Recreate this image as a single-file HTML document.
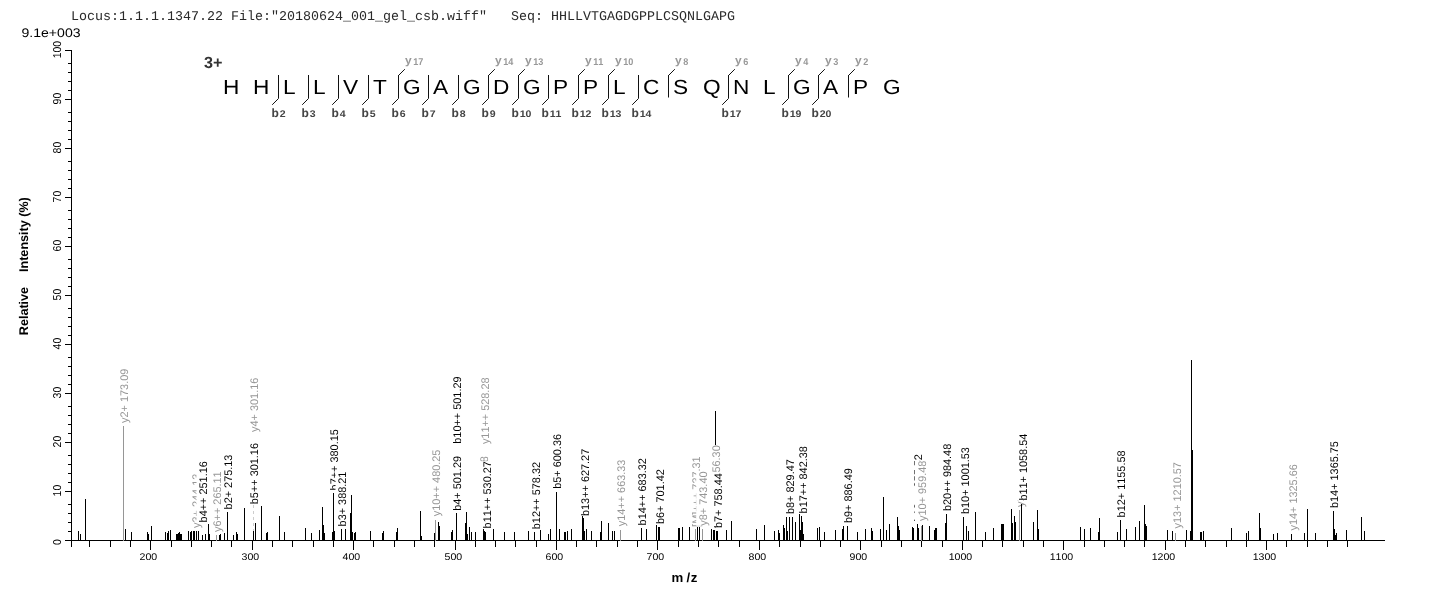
<!DOCTYPE html>
<html lang="en"><head><meta charset="utf-8"><title>MS/MS spectrum HHLLVTGAGDGPPLCSQNLGAPG</title>
<style>html,body{margin:0;padding:0;background:#fff}body{width:1436px;height:600px;overflow:hidden}svg{display:block}text{white-space:pre}text{font-family:"Liberation Sans",Arial,sans-serif;font-kerning:none;font-variant-ligatures:none;text-rendering:geometricPrecision}.m{font-family:"Liberation Mono","Courier New",monospace}.c{shape-rendering:crispEdges}</style></head><body>
<svg width="1436" height="600" viewBox="0 0 1436 600">
<rect width="1436" height="600" fill="#fff"/>
<text class="m" x="70.9" y="19.8" font-size="13.33" fill="#2a2a2a" xml:space="preserve" textLength="664.0" lengthAdjust="spacing">Locus:1.1.1.1347.22 File:&quot;20180624_001_gel_csb.wiff&quot;   Seq: HHLLVTGAGDGPPLCSQNLGAPG</text>
<text transform="translate(21.5,36.8) scale(1.125,1)" font-size="12.5" fill="#000">9.1e+003</text>
<g class="c" stroke="#000" stroke-width="1" fill="none">
<path d="M71.5 50V547M65 540.5H1385M65 540.5H71M68 531.5H71M68 522.5H71M68 513.5H71M68 504.5H71M65 491.5H71M68 482.5H71M68 473.5H71M68 464.5H71M68 455.5H71M65 442.5H71M68 433.5H71M68 424.5H71M68 415.5H71M68 406.5H71M65 393.5H71M68 384.5H71M68 375.5H71M68 366.5H71M68 357.5H71M65 344.5H71M68 335.5H71M68 326.5H71M68 317.5H71M68 308.5H71M65 295.5H71M68 286.5H71M68 277.5H71M68 268.5H71M68 259.5H71M65 246.5H71M68 237.5H71M68 228.5H71M68 219.5H71M68 210.5H71M65 197.5H71M68 188.5H71M68 179.5H71M68 170.5H71M68 161.5H71M65 148.5H71M68 139.5H71M68 130.5H71M68 121.5H71M68 112.5H71M65 99.5H71M68 90.5H71M68 81.5H71M68 72.5H71M68 63.5H71M65 50.5H71M89.5 540V547M110.5 540V547M130.5 540V547M150.5 540V550M171.5 540V547M191.5 540V547M211.5 540V547M231.5 540V547M252.5 540V550M272.5 540V547M292.5 540V547M313.5 540V547M333.5 540V547M353.5 540V550M373.5 540V547M394.5 540V547M414.5 540V547M434.5 540V547M455.5 540V550M475.5 540V547M495.5 540V547M515.5 540V547M536.5 540V547M556.5 540V550M576.5 540V547M596.5 540V547M617.5 540V547M637.5 540V547M657.5 540V550M678.5 540V547M698.5 540V547M718.5 540V547M739.5 540V547M759.5 540V550M779.5 540V547M800.5 540V547M820.5 540V547M840.5 540V547M860.5 540V550M881.5 540V547M901.5 540V547M921.5 540V547M942.5 540V547M962.5 540V550M982.5 540V547M1002.5 540V547M1023.5 540V547M1043.5 540V547M1063.5 540V550M1084.5 540V547M1104.5 540V547M1124.5 540V547M1144.5 540V547M1165.5 540V550M1185.5 540V547M1205.5 540V547M1226.5 540V547M1246.5 540V547M1266.5 540V550M1286.5 540V547M1307.5 540V547M1327.5 540V547M1347.5 540V547"/>
</g>
<text transform="translate(61.4,542.1) rotate(-90) scale(0.95,1.04)" font-size="11" text-anchor="middle" fill="#000">0</text>
<text transform="translate(61.4,490.6) rotate(-90) scale(0.95,1.04)" font-size="11" text-anchor="middle" fill="#000">10</text>
<text transform="translate(61.4,441.6) rotate(-90) scale(0.95,1.04)" font-size="11" text-anchor="middle" fill="#000">20</text>
<text transform="translate(61.4,392.6) rotate(-90) scale(0.95,1.04)" font-size="11" text-anchor="middle" fill="#000">30</text>
<text transform="translate(61.4,343.6) rotate(-90) scale(0.95,1.04)" font-size="11" text-anchor="middle" fill="#000">40</text>
<text transform="translate(61.4,294.6) rotate(-90) scale(0.95,1.04)" font-size="11" text-anchor="middle" fill="#000">50</text>
<text transform="translate(61.4,245.6) rotate(-90) scale(0.95,1.04)" font-size="11" text-anchor="middle" fill="#000">60</text>
<text transform="translate(61.4,196.6) rotate(-90) scale(0.95,1.04)" font-size="11" text-anchor="middle" fill="#000">70</text>
<text transform="translate(61.4,147.6) rotate(-90) scale(0.95,1.04)" font-size="11" text-anchor="middle" fill="#000">80</text>
<text transform="translate(61.4,98.6) rotate(-90) scale(0.95,1.04)" font-size="11" text-anchor="middle" fill="#000">90</text>
<text transform="translate(61.4,49.6) rotate(-90) scale(0.95,1.04)" font-size="11" text-anchor="middle" fill="#000">100</text>
<text transform="translate(28,335.2) rotate(-90)" font-size="12.6" font-weight="bold" fill="#000" xml:space="preserve"><tspan x="0">Relative   </tspan><tspan x="63.2">Intensity </tspan><tspan x="118.4">(%)</tspan></text>
<text transform="translate(148.4,559.7) scale(1.09,1)" font-size="9.7" text-anchor="middle" fill="#000">200</text>
<text transform="translate(250.4,559.7) scale(1.09,1)" font-size="9.7" text-anchor="middle" fill="#000">300</text>
<text transform="translate(351.4,559.7) scale(1.09,1)" font-size="9.7" text-anchor="middle" fill="#000">400</text>
<text transform="translate(453.4,559.7) scale(1.09,1)" font-size="9.7" text-anchor="middle" fill="#000">500</text>
<text transform="translate(554.4,559.7) scale(1.09,1)" font-size="9.7" text-anchor="middle" fill="#000">600</text>
<text transform="translate(655.4,559.7) scale(1.09,1)" font-size="9.7" text-anchor="middle" fill="#000">700</text>
<text transform="translate(757.4,559.7) scale(1.09,1)" font-size="9.7" text-anchor="middle" fill="#000">800</text>
<text transform="translate(858.4,559.7) scale(1.09,1)" font-size="9.7" text-anchor="middle" fill="#000">900</text>
<text transform="translate(960.4,559.7) scale(1.09,1)" font-size="9.7" text-anchor="middle" fill="#000">1000</text>
<text transform="translate(1061.4,559.7) scale(1.09,1)" font-size="9.7" text-anchor="middle" fill="#000">1100</text>
<text transform="translate(1163.4,559.7) scale(1.09,1)" font-size="9.7" text-anchor="middle" fill="#000">1200</text>
<text transform="translate(1264.4,559.7) scale(1.09,1)" font-size="9.7" text-anchor="middle" fill="#000">1300</text>
<text transform="translate(671.5,582.3) scale(1.01,1)" font-size="13.1" font-weight="bold" fill="#000" dx="0 3.2 0.6">m/z</text>
<text transform="translate(204.0,67.5)" font-size="16.2" font-weight="bold" fill="#333">3+</text>
<text transform="translate(223.0,93.5) scale(1.105,1)" font-size="20.5" fill="#000">H</text>
<text transform="translate(253.0,93.5) scale(1.105,1)" font-size="20.5" fill="#000">H</text>
<text transform="translate(283.0,93.5) scale(1.105,1)" font-size="20.5" fill="#000">L</text>
<text transform="translate(313.0,93.5) scale(1.105,1)" font-size="20.5" fill="#000">L</text>
<text transform="translate(343.0,93.5) scale(1.105,1)" font-size="20.5" fill="#000">V</text>
<text transform="translate(373.0,93.5) scale(1.105,1)" font-size="20.5" fill="#000">T</text>
<text transform="translate(403.0,93.5) scale(1.105,1)" font-size="20.5" fill="#000">G</text>
<text transform="translate(433.0,93.5) scale(1.105,1)" font-size="20.5" fill="#000">A</text>
<text transform="translate(463.0,93.5) scale(1.105,1)" font-size="20.5" fill="#000">G</text>
<text transform="translate(493.0,93.5) scale(1.105,1)" font-size="20.5" fill="#000">D</text>
<text transform="translate(523.0,93.5) scale(1.105,1)" font-size="20.5" fill="#000">G</text>
<text transform="translate(553.0,93.5) scale(1.105,1)" font-size="20.5" fill="#000">P</text>
<text transform="translate(583.0,93.5) scale(1.105,1)" font-size="20.5" fill="#000">P</text>
<text transform="translate(613.0,93.5) scale(1.105,1)" font-size="20.5" fill="#000">L</text>
<text transform="translate(643.0,93.5) scale(1.105,1)" font-size="20.5" fill="#000">C</text>
<text transform="translate(673.0,93.5) scale(1.105,1)" font-size="20.5" fill="#000">S</text>
<text transform="translate(703.0,93.5) scale(1.105,1)" font-size="20.5" fill="#000">Q</text>
<text transform="translate(733.0,93.5) scale(1.105,1)" font-size="20.5" fill="#000">N</text>
<text transform="translate(763.0,93.5) scale(1.105,1)" font-size="20.5" fill="#000">L</text>
<text transform="translate(793.0,93.5) scale(1.105,1)" font-size="20.5" fill="#000">G</text>
<text transform="translate(823.0,93.5) scale(1.105,1)" font-size="20.5" fill="#000">A</text>
<text transform="translate(853.0,93.5) scale(1.105,1)" font-size="20.5" fill="#000">P</text>
<text transform="translate(883.0,93.5) scale(1.105,1)" font-size="20.5" fill="#000">G</text>
<path d="M278.5 75V98.5L272.2 104.8M308.5 75V98.5L302.2 104.8M338.5 75V98.5L332.2 104.8M368.5 75V98.5L362.2 104.8M398.5 75V98.5L392.2 104.8M398.5 75.5L404.8 69.2M428.5 75V98.5L422.2 104.8M458.5 75V98.5L452.2 104.8M488.5 75V98.5L482.2 104.8M488.5 75.5L494.8 69.2M518.5 75V98.5L512.2 104.8M518.5 75.5L524.8 69.2M548.5 75V98.5L542.2 104.8M578.5 75V98.5L572.2 104.8M578.5 75.5L584.8 69.2M608.5 75V98.5L602.2 104.8M608.5 75.5L614.8 69.2M638.5 75V98.5L632.2 104.8M668.5 75V97.5M668.5 75.5L674.8 69.2M728.5 75V98.5L722.2 104.8M728.5 75.5L734.8 69.2M788.5 75V98.5L782.2 104.8M788.5 75.5L794.8 69.2M818.5 75V98.5L812.2 104.8M818.5 75.5L824.8 69.2M848.5 75V97.5M848.5 75.5L854.8 69.2" stroke="#111" stroke-width="1" fill="none"/>
<text x="278.9" y="116.6" font-size="12" font-weight="bold" fill="#444" text-anchor="end">b</text>
<text transform="translate(279.7,116.6) scale(1.1,1)" font-size="9.6" font-weight="bold" fill="#444">2</text>
<text x="308.9" y="116.6" font-size="12" font-weight="bold" fill="#444" text-anchor="end">b</text>
<text transform="translate(309.7,116.6) scale(1.1,1)" font-size="9.6" font-weight="bold" fill="#444">3</text>
<text x="338.9" y="116.6" font-size="12" font-weight="bold" fill="#444" text-anchor="end">b</text>
<text transform="translate(339.7,116.6) scale(1.1,1)" font-size="9.6" font-weight="bold" fill="#444">4</text>
<text x="368.9" y="116.6" font-size="12" font-weight="bold" fill="#444" text-anchor="end">b</text>
<text transform="translate(369.7,116.6) scale(1.1,1)" font-size="9.6" font-weight="bold" fill="#444">5</text>
<text x="398.9" y="116.6" font-size="12" font-weight="bold" fill="#444" text-anchor="end">b</text>
<text transform="translate(399.7,116.6) scale(1.1,1)" font-size="9.6" font-weight="bold" fill="#444">6</text>
<text x="428.9" y="116.6" font-size="12" font-weight="bold" fill="#444" text-anchor="end">b</text>
<text transform="translate(429.7,116.6) scale(1.1,1)" font-size="9.6" font-weight="bold" fill="#444">7</text>
<text x="458.9" y="116.6" font-size="12" font-weight="bold" fill="#444" text-anchor="end">b</text>
<text transform="translate(459.7,116.6) scale(1.1,1)" font-size="9.6" font-weight="bold" fill="#444">8</text>
<text x="488.9" y="116.6" font-size="12" font-weight="bold" fill="#444" text-anchor="end">b</text>
<text transform="translate(489.7,116.6) scale(1.1,1)" font-size="9.6" font-weight="bold" fill="#444">9</text>
<text x="518.9" y="116.6" font-size="12" font-weight="bold" fill="#444" text-anchor="end">b</text>
<text transform="translate(519.7,116.6) scale(1.1,1)" font-size="9.6" font-weight="bold" fill="#444">10</text>
<text x="548.9" y="116.6" font-size="12" font-weight="bold" fill="#444" text-anchor="end">b</text>
<text transform="translate(549.7,116.6) scale(1.1,1)" font-size="9.6" font-weight="bold" fill="#444">11</text>
<text x="578.9" y="116.6" font-size="12" font-weight="bold" fill="#444" text-anchor="end">b</text>
<text transform="translate(579.7,116.6) scale(1.1,1)" font-size="9.6" font-weight="bold" fill="#444">12</text>
<text x="608.9" y="116.6" font-size="12" font-weight="bold" fill="#444" text-anchor="end">b</text>
<text transform="translate(609.7,116.6) scale(1.1,1)" font-size="9.6" font-weight="bold" fill="#444">13</text>
<text x="638.9" y="116.6" font-size="12" font-weight="bold" fill="#444" text-anchor="end">b</text>
<text transform="translate(639.7,116.6) scale(1.1,1)" font-size="9.6" font-weight="bold" fill="#444">14</text>
<text x="728.9" y="116.6" font-size="12" font-weight="bold" fill="#444" text-anchor="end">b</text>
<text transform="translate(729.7,116.6) scale(1.1,1)" font-size="9.6" font-weight="bold" fill="#444">17</text>
<text x="788.9" y="116.6" font-size="12" font-weight="bold" fill="#444" text-anchor="end">b</text>
<text transform="translate(789.7,116.6) scale(1.1,1)" font-size="9.6" font-weight="bold" fill="#444">19</text>
<text x="818.9" y="116.6" font-size="12" font-weight="bold" fill="#444" text-anchor="end">b</text>
<text transform="translate(819.7,116.6) scale(1.1,1)" font-size="9.6" font-weight="bold" fill="#444">20</text>
<text transform="translate(405.0,64.2) scale(1.06,1)" font-size="11.3" font-weight="bold" fill="#999">y</text>
<text transform="translate(413.3,64.8) scale(0.93,1)" font-size="9.8" font-weight="bold" fill="#999">17</text>
<text transform="translate(495.0,64.2) scale(1.06,1)" font-size="11.3" font-weight="bold" fill="#999">y</text>
<text transform="translate(503.3,64.8) scale(0.93,1)" font-size="9.8" font-weight="bold" fill="#999">14</text>
<text transform="translate(525.0,64.2) scale(1.06,1)" font-size="11.3" font-weight="bold" fill="#999">y</text>
<text transform="translate(533.3,64.8) scale(0.93,1)" font-size="9.8" font-weight="bold" fill="#999">13</text>
<text transform="translate(585.0,64.2) scale(1.06,1)" font-size="11.3" font-weight="bold" fill="#999">y</text>
<text transform="translate(593.3,64.8) scale(0.93,1)" font-size="9.8" font-weight="bold" fill="#999">11</text>
<text transform="translate(615.0,64.2) scale(1.06,1)" font-size="11.3" font-weight="bold" fill="#999">y</text>
<text transform="translate(623.3,64.8) scale(0.93,1)" font-size="9.8" font-weight="bold" fill="#999">10</text>
<text transform="translate(675.0,64.2) scale(1.06,1)" font-size="11.3" font-weight="bold" fill="#999">y</text>
<text transform="translate(683.3,64.8) scale(0.93,1)" font-size="9.8" font-weight="bold" fill="#999">8</text>
<text transform="translate(735.0,64.2) scale(1.06,1)" font-size="11.3" font-weight="bold" fill="#999">y</text>
<text transform="translate(743.3,64.8) scale(0.93,1)" font-size="9.8" font-weight="bold" fill="#999">6</text>
<text transform="translate(795.0,64.2) scale(1.06,1)" font-size="11.3" font-weight="bold" fill="#999">y</text>
<text transform="translate(803.3,64.8) scale(0.93,1)" font-size="9.8" font-weight="bold" fill="#999">4</text>
<text transform="translate(825.0,64.2) scale(1.06,1)" font-size="11.3" font-weight="bold" fill="#999">y</text>
<text transform="translate(833.3,64.8) scale(0.93,1)" font-size="9.8" font-weight="bold" fill="#999">3</text>
<text transform="translate(855.0,64.2) scale(1.06,1)" font-size="11.3" font-weight="bold" fill="#999">y</text>
<text transform="translate(863.3,64.8) scale(0.93,1)" font-size="9.8" font-weight="bold" fill="#999">2</text>
<path class="c" d="M78.5 531V541M80.5 534V541M85.5 499V541M125.5 529V541M131.5 532V541M147.5 532V541M148.5 534V541M151.5 526V541M165.5 532V541M167.5 533V541M168.5 531V541M170.5 530V541M176.5 534V541M177.5 534V541M178.5 533V541M179.5 532V541M180.5 534V541M181.5 534V541M188.5 531V541M190.5 532V541M191.5 531V541M193.5 531V541M194.5 531V541M196.5 531V541M198.5 531V541M202.5 535V541M205.5 534V541M208.5 524V541M209.5 534V541M219.5 535V541M220.5 534V541M224.5 533V541M227.5 512V541M233.5 535V541M236.5 532V541M237.5 534V541M244.5 508V541M253.5 531V541M255.5 523V541M261.5 506V541M266.5 533V541M267.5 532V541M279.5 516V541M284.5 532V541M305.5 528V541M311.5 533V541M319.5 530V541M322.5 507V541M323.5 525V541M324.5 533V541M332.5 532V541M333.5 493V541M334.5 531V541M341.5 529V541M345.5 529V541M350.5 513V541M351.5 495V541M352.5 532V541M354.5 533V541M355.5 532V541M370.5 531V541M382.5 533V541M383.5 531V541M396.5 532V541M397.5 528V541M420.5 511V541M421.5 536V541M434.5 533V541M438.5 522V541M439.5 526V541M451.5 532V541M452.5 530V541M456.5 513V541M465.5 523V541M466.5 512V541M467.5 534V541M469.5 527V541M471.5 532V541M475.5 532V541M483.5 529V541M484.5 531V541M485.5 532V541M493.5 529V541M504.5 532V541M514.5 532V541M528.5 531V541M534.5 532V541M540.5 530V541M548.5 534V541M550.5 529V541M556.5 492V541M559.5 529V541M564.5 532V541M565.5 532V541M567.5 531V541M571.5 529V541M582.5 516V541M583.5 518V541M584.5 531V541M586.5 529V541M591.5 531V541M600.5 532V541M601.5 521V541M608.5 523V541M612.5 531V541M614.5 531V541M641.5 528V541M646.5 529V541M656.5 525V541M658.5 527V541M659.5 527V541M678.5 528V541M679.5 528V541M682.5 527V541M689.5 527V541M697.5 527V541M699.5 527V541M711.5 529V541M713.5 529.5V541M714.5 529.5V541M716.5 531V541M717.5 531V541M726.5 530V541M731.5 521V541M756.5 529V541M764.5 525V541M774.5 531V541M778.5 530V541M779.5 533V541M783.5 525V541M784.5 528V541M786.5 517V541M787.5 531V541M789.5 517V541M792.5 517V541M795.5 522V541M799.5 514V541M800.5 530V541M801.5 516V541M802.5 522V541M803.5 534V541M817.5 528V541M819.5 527V541M824.5 532V541M835.5 530V541M842.5 529V541M843.5 526V541M847.5 526V541M857.5 532V541M865.5 529V541M871.5 528V541M872.5 531V541M880.5 529V541M883.5 497V541M886.5 530V541M889.5 524V541M897.5 517V541M898.5 526V541M899.5 530V541M912.5 527V541M913.5 528V541M917.5 524V541M918.5 528V541M922.5 525V541M929.5 526V541M934.5 530V541M935.5 528V541M936.5 528V541M945.5 523V541M946.5 514V541M963.5 517V541M966.5 526V541M968.5 531V541M975.5 512V541M985.5 532V541M993.5 528V541M1001.5 524V541M1002.5 524V541M1003.5 524V541M1011.5 509V541M1012.5 523V541M1014.5 516V541M1015.5 522V541M1021.5 503.5V541M1033.5 522V541M1037.5 510V541M1038.5 529V541M1080.5 527V541M1084.5 529V541M1090.5 528V541M1098.5 532V541M1099.5 518V541M1117.5 532V541M1120.5 520V541M1126.5 529V541M1135.5 527V541M1139.5 521V541M1144.5 505V541M1145.5 524V541M1146.5 526V541M1167.5 530V541M1172.5 531V541M1186.5 530V541M1190.5 531V541M1191.5 360V541M1192.5 449.5V541M1200.5 532V541M1201.5 532V541M1203.5 531V541M1231.5 528V541M1246.5 533V541M1248.5 531V541M1259.5 513V541M1260.5 528V541M1273.5 534V541M1277.5 533V541M1291.5 534V541M1304.5 533V541M1307.5 509V541M1315.5 533V541M1333.5 511V541M1334.5 529V541M1335.5 535V541M1336.5 533V541M1346.5 530V541M1361.5 517V541M1364.5 531V541M715.5 411V528" stroke="#000" stroke-width="1" fill="none"/>
<path class="c" d="M123.5 426V541M216.5 535V541M435.5 520V541M620.5 530V541M695.5 529V541M702.5 529V541M921.5 526V541M1019.5 510V541M1175.5 533V541" stroke="#969696" stroke-width="1" fill="none"/>
<path d="M253.5 505V531" stroke="#cdcdcd" stroke-width="1" stroke-dasharray="3 3" fill="none" class="c"/>
<rect x="117.5" y="368.5" width="13.5" height="54.5" fill="#fff"/>
<text transform="translate(128.4,422.9) rotate(-90) scale(0.99,1)" font-size="11" fill="#969696">y2+ 173.09</text>
<rect x="189.5" y="473.5" width="13.5" height="54.5" fill="#fff"/>
<text transform="translate(200.4,527.9) rotate(-90) scale(0.99,1)" font-size="11" fill="#969696">y3+ 244.13</text>
<rect x="196.5" y="460.5" width="13.5" height="61.5" fill="#fff"/>
<text transform="translate(207.4,522.4) rotate(-90) scale(0.99,1)" font-size="11" fill="#000">b4++ 251.16</text>
<rect x="210.5" y="472.0" width="13.5" height="60.0" fill="#fff"/>
<text transform="translate(221.4,531.9) rotate(-90) scale(0.99,1)" font-size="11" fill="#969696">y6++ 265.11</text>
<rect x="221.5" y="453.9" width="13.5" height="55.1" fill="#fff"/>
<text transform="translate(232.4,509.4) rotate(-90) scale(0.99,1)" font-size="11" fill="#000">b2+ 275.13</text>
<rect x="247.5" y="442.3" width="13.5" height="61.5" fill="#fff"/>
<text transform="translate(258.4,504.2) rotate(-90) scale(0.99,1)" font-size="11" fill="#000">b5++ 301.16</text>
<rect x="247.5" y="377.5" width="13.5" height="54.5" fill="#fff"/>
<text transform="translate(258.4,431.9) rotate(-90) scale(0.99,1)" font-size="11" fill="#969696">y4+ 301.16</text>
<rect x="327.5" y="428.5" width="13.5" height="61.5" fill="#fff"/>
<text transform="translate(338.4,490.4) rotate(-90) scale(0.99,1)" font-size="11" fill="#000">b7++ 380.15</text>
<rect x="335.5" y="470.9" width="13.5" height="55.1" fill="#fff"/>
<text transform="translate(346.4,526.4) rotate(-90) scale(0.99,1)" font-size="11" fill="#000">b3+ 388.21</text>
<rect x="429.5" y="449.4" width="13.5" height="66.9" fill="#fff"/>
<text transform="translate(440.4,516.2) rotate(-90) scale(0.99,1)" font-size="11" fill="#969696">y10++ 480.25</text>
<rect x="450.5" y="455.3" width="13.5" height="55.1" fill="#fff"/>
<text transform="translate(461.4,510.8) rotate(-90) scale(0.99,1)" font-size="11" fill="#000">b4+ 501.29</text>
<rect x="450.5" y="375.8" width="13.5" height="67.5" fill="#fff"/>
<text transform="translate(461.4,443.7) rotate(-90) scale(0.99,1)" font-size="11" fill="#000">b10++ 501.29</text>
<rect x="477.5" y="456.7" width="13.5" height="66.1" fill="#fff"/>
<text transform="translate(488.4,522.7) rotate(-90) scale(0.99,1)" font-size="11" fill="#969696">y11++ 528.28</text>
<rect x="478.2" y="378.1" width="13.5" height="66.1" fill="#fff"/>
<text transform="translate(489.1,444.1) rotate(-90) scale(0.99,1)" font-size="11" fill="#969696">y11++ 528.28</text>
<rect x="479.8" y="461.3" width="13.5" height="66.7" fill="#fff"/>
<text transform="translate(490.7,528.4) rotate(-90) scale(0.99,1)" font-size="11" fill="#000">b11++ 530.27</text>
<rect x="529.0" y="461.3" width="13.5" height="67.5" fill="#fff"/>
<text transform="translate(539.9,529.2) rotate(-90) scale(0.99,1)" font-size="11" fill="#000">b12++ 578.32</text>
<rect x="550.3" y="433.3" width="13.5" height="55.1" fill="#fff"/>
<text transform="translate(561.2,488.8) rotate(-90) scale(0.99,1)" font-size="11" fill="#000">b5+ 600.36</text>
<rect x="578.3" y="448.1" width="13.5" height="67.5" fill="#fff"/>
<text transform="translate(589.2,516.0) rotate(-90) scale(0.99,1)" font-size="11" fill="#000">b13++ 627.27</text>
<rect x="614.3" y="459.4" width="13.5" height="66.9" fill="#fff"/>
<text transform="translate(625.2,526.2) rotate(-90) scale(0.99,1)" font-size="11" fill="#969696">y14++ 663.33</text>
<rect x="635.3" y="457.5" width="13.5" height="67.5" fill="#fff"/>
<text transform="translate(646.2,525.4) rotate(-90) scale(0.99,1)" font-size="11" fill="#000">b14++ 683.32</text>
<rect x="653.5" y="468.5" width="13.5" height="55.1" fill="#fff"/>
<text transform="translate(664.4,524.0) rotate(-90) scale(0.99,1)" font-size="11" fill="#000">b6+ 701.42</text>
<rect x="689.2" y="455.7" width="13.5" height="70.8" fill="#fff"/>
<text transform="translate(700.1,526.9) rotate(-90) scale(0.99,1)" font-size="11" fill="#969696">[M]+++ 737.31</text>
<rect x="696.2" y="471.3" width="13.5" height="54.5" fill="#fff"/>
<text transform="translate(707.1,525.7) rotate(-90) scale(0.99,1)" font-size="11" fill="#969696">y8+ 743.40</text>
<rect x="708.8" y="445.1" width="13.5" height="66.9" fill="#fff"/>
<text transform="translate(719.7,511.9) rotate(-90) scale(0.99,1)" font-size="11" fill="#969696">y17++ 756.30</text>
<rect x="710.7" y="472.5" width="13.5" height="55.1" fill="#fff"/>
<text transform="translate(721.6,528.0) rotate(-90) scale(0.99,1)" font-size="11" fill="#000">b7+ 758.44</text>
<rect x="783.3" y="458.5" width="13.5" height="55.1" fill="#fff"/>
<text transform="translate(794.2,514.0) rotate(-90) scale(0.99,1)" font-size="11" fill="#000">b8+ 829.47</text>
<rect x="796.3" y="445.5" width="13.5" height="67.5" fill="#fff"/>
<text transform="translate(807.2,513.4) rotate(-90) scale(0.99,1)" font-size="11" fill="#000">b17++ 842.38</text>
<rect x="841.3" y="467.5" width="13.5" height="55.1" fill="#fff"/>
<text transform="translate(852.2,523.0) rotate(-90) scale(0.99,1)" font-size="11" fill="#000">b9+ 886.49</text>
<rect x="911.0" y="453.5" width="13.5" height="67.5" fill="#fff"/>
<text transform="translate(921.9,521.4) rotate(-90) scale(0.99,1)" font-size="11" fill="#000">b19++ 955.52</text>
<rect x="915.0" y="460.5" width="13.5" height="60.5" fill="#fff"/>
<text transform="translate(925.9,520.9) rotate(-90) scale(0.99,1)" font-size="11" fill="#969696">y10+ 959.48</text>
<rect x="940.3" y="443.1" width="13.5" height="67.5" fill="#fff"/>
<text transform="translate(951.2,511.0) rotate(-90) scale(0.99,1)" font-size="11" fill="#000">b20++ 984.48</text>
<rect x="958.0" y="446.4" width="13.5" height="67.2" fill="#fff"/>
<text transform="translate(968.9,514.0) rotate(-90) scale(0.99,1)" font-size="11" fill="#000">b10+ 1001.53</text>
<rect x="1013.5" y="441.2" width="13.5" height="65.8" fill="#fff"/>
<text transform="translate(1024.4,506.9) rotate(-90) scale(0.99,1)" font-size="11" fill="#969696">y11+ 1056.54</text>
<rect x="1016.0" y="433.8" width="13.5" height="66.4" fill="#fff"/>
<text transform="translate(1026.9,500.6) rotate(-90) scale(0.99,1)" font-size="11" fill="#000">b11+ 1058.54</text>
<rect x="1114.5" y="450.6" width="13.5" height="66.4" fill="#fff"/>
<text transform="translate(1125.4,517.4) rotate(-90) scale(0.99,1)" font-size="11" fill="#000">b12+ 1155.58</text>
<rect x="1169.8" y="461.9" width="13.5" height="66.6" fill="#fff"/>
<text transform="translate(1180.7,528.4) rotate(-90) scale(0.99,1)" font-size="11" fill="#969696">y13+ 1210.57</text>
<rect x="1285.9" y="464.0" width="13.5" height="66.6" fill="#fff"/>
<text transform="translate(1296.8,530.5) rotate(-90) scale(0.99,1)" font-size="11" fill="#969696">y14+ 1325.66</text>
<rect x="1327.1" y="440.4" width="13.5" height="67.2" fill="#fff"/>
<text transform="translate(1338.0,508.0) rotate(-90) scale(0.99,1)" font-size="11" fill="#000">b14+ 1365.75</text>
<path class="c" d="M1021.5 503.5V509" stroke="#000" stroke-width="1" fill="none"/>
</svg>
</body></html>
